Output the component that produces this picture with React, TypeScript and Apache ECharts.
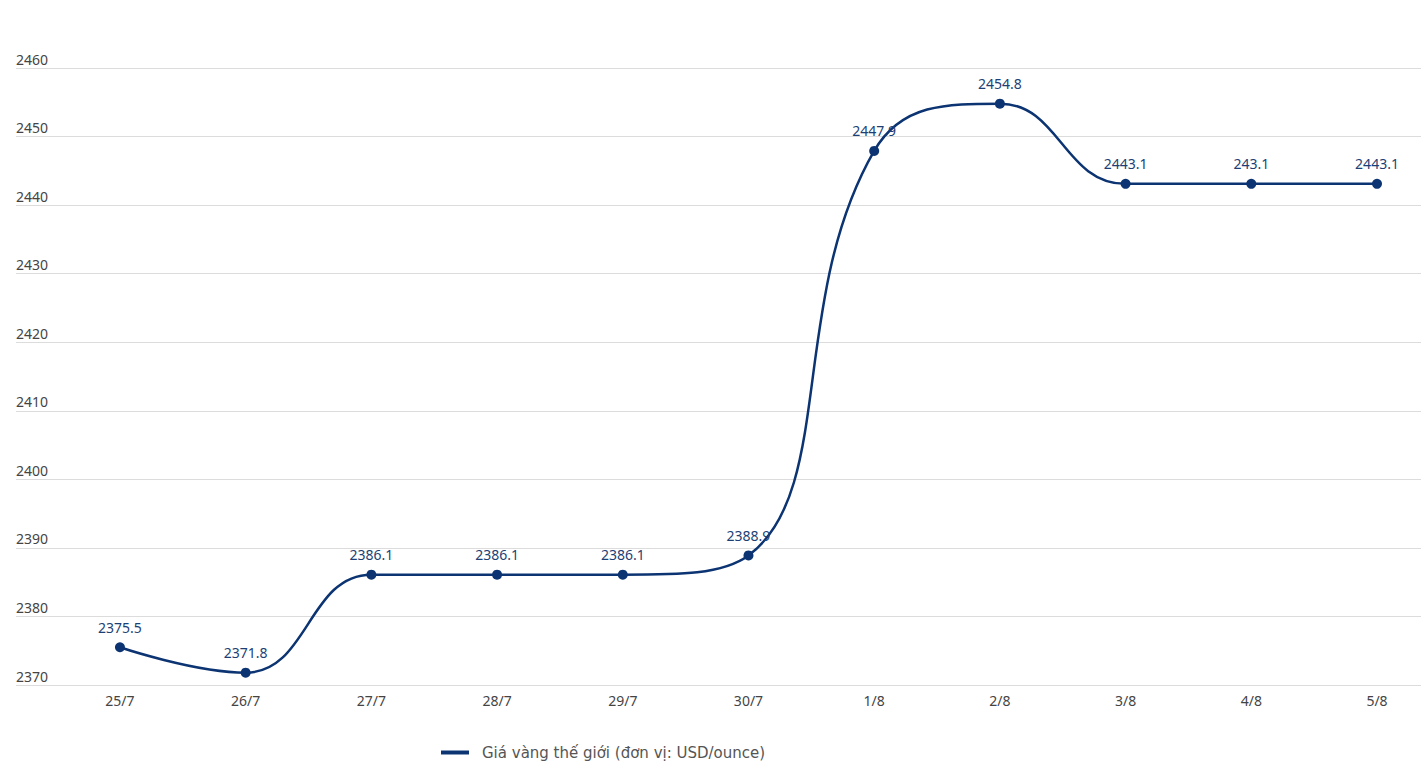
import React, { useEffect, useRef } from "react";
import * as echarts from "echarts";

const categories = ["25/7", "26/7", "27/7", "28/7", "29/7", "30/7", "1/8", "2/8", "3/8", "4/8", "5/8"];
const prices = [2375.5, 2371.8, 2386.1, 2386.1, 2386.1, 2388.9, 2447.9, 2454.8, 2443.1, 2443.1, 2443.1];
const pointLabels = ["2375.5", "2371.8", "2386.1", "2386.1", "2386.1", "2388.9", "2447.9", "2454.8", "2443.1", "243.1", "2443.1"];
const seriesName = "Giá vàng thế giới (đơn vị: USD/ounce)";
const yMin = 2370;
const yMax = 2460;
const yStep = 10;

export default function App() {
  const ref = useRef<HTMLDivElement>(null);
  useEffect(() => {
    if (!ref.current) return;
    const chart = echarts.init(ref.current, null, { renderer: "svg" });
    const font = "'Noto Sans', sans-serif";
    const idx = categories.map((_, i) => i);
    const points = prices.map((v, i) => [i, v]);
    chart.setOption({
      animation: false,
      backgroundColor: "#ffffff",
      textStyle: { fontFamily: font },
      legend: {
        left: 436,
        top: 740,
        icon: "rect",
        itemWidth: 28,
        itemHeight: 4,
        itemGap: 13,
        textStyle: { color: "#555", fontSize: 15, padding: [0, 0, 0, 8], fontFamily: "'DejaVu Sans', sans-serif" },
        data: [seriesName],
      },
      grid: { left: 16, right: 0, top: 68, bottom: 87, containLabel: false },
      xAxis: {
        type: "value",
        min: -0.827,
        max: 10.35,
        axisLine: { show: false },
        axisTick: { show: false },
        splitLine: { show: false },
        axisLabel: {
          customValues: idx,
          color: "#444",
          fontSize: 14,
          margin: 8,
          fontFamily: font,
          formatter: (v: number) => categories[Math.round(v)] ?? "",
        },
      },
      yAxis: {
        type: "value",
        min: yMin,
        max: yMax,
        interval: yStep,
        axisLine: { show: false },
        axisTick: { show: false },
        axisLabel: {
          inside: true,
          margin: 0,
          color: "#444",
          fontSize: 14,
          verticalAlign: "bottom",
          padding: [0, 0, 2, 0],
          fontFamily: font,
          formatter: (v: number) => String(v),
        },
        splitLine: { show: true, lineStyle: { color: "#dcdcdc", width: 1 } },
      },
      series: [
        {
          name: seriesName,
          type: "line",
          data: points,
          smooth: 0.45,
          symbol: "circle",
          symbolSize: 10,
          lineStyle: { color: "#0c3472", width: 2.5 },
          itemStyle: { color: "#0c3472" },
          label: {
            show: true,
            position: "top",
            distance: 8,
            color: "#1c3f75",
            fontSize: 14,
            fontFamily: font,
            formatter: (p: any) => pointLabels[p.dataIndex],
          },
        },
      ],
    });
    return () => chart.dispose();
  }, []);
  return <div ref={ref} style={{ width: 1421, height: 772, position: "absolute", left: 0, top: 0 }} />;
}
